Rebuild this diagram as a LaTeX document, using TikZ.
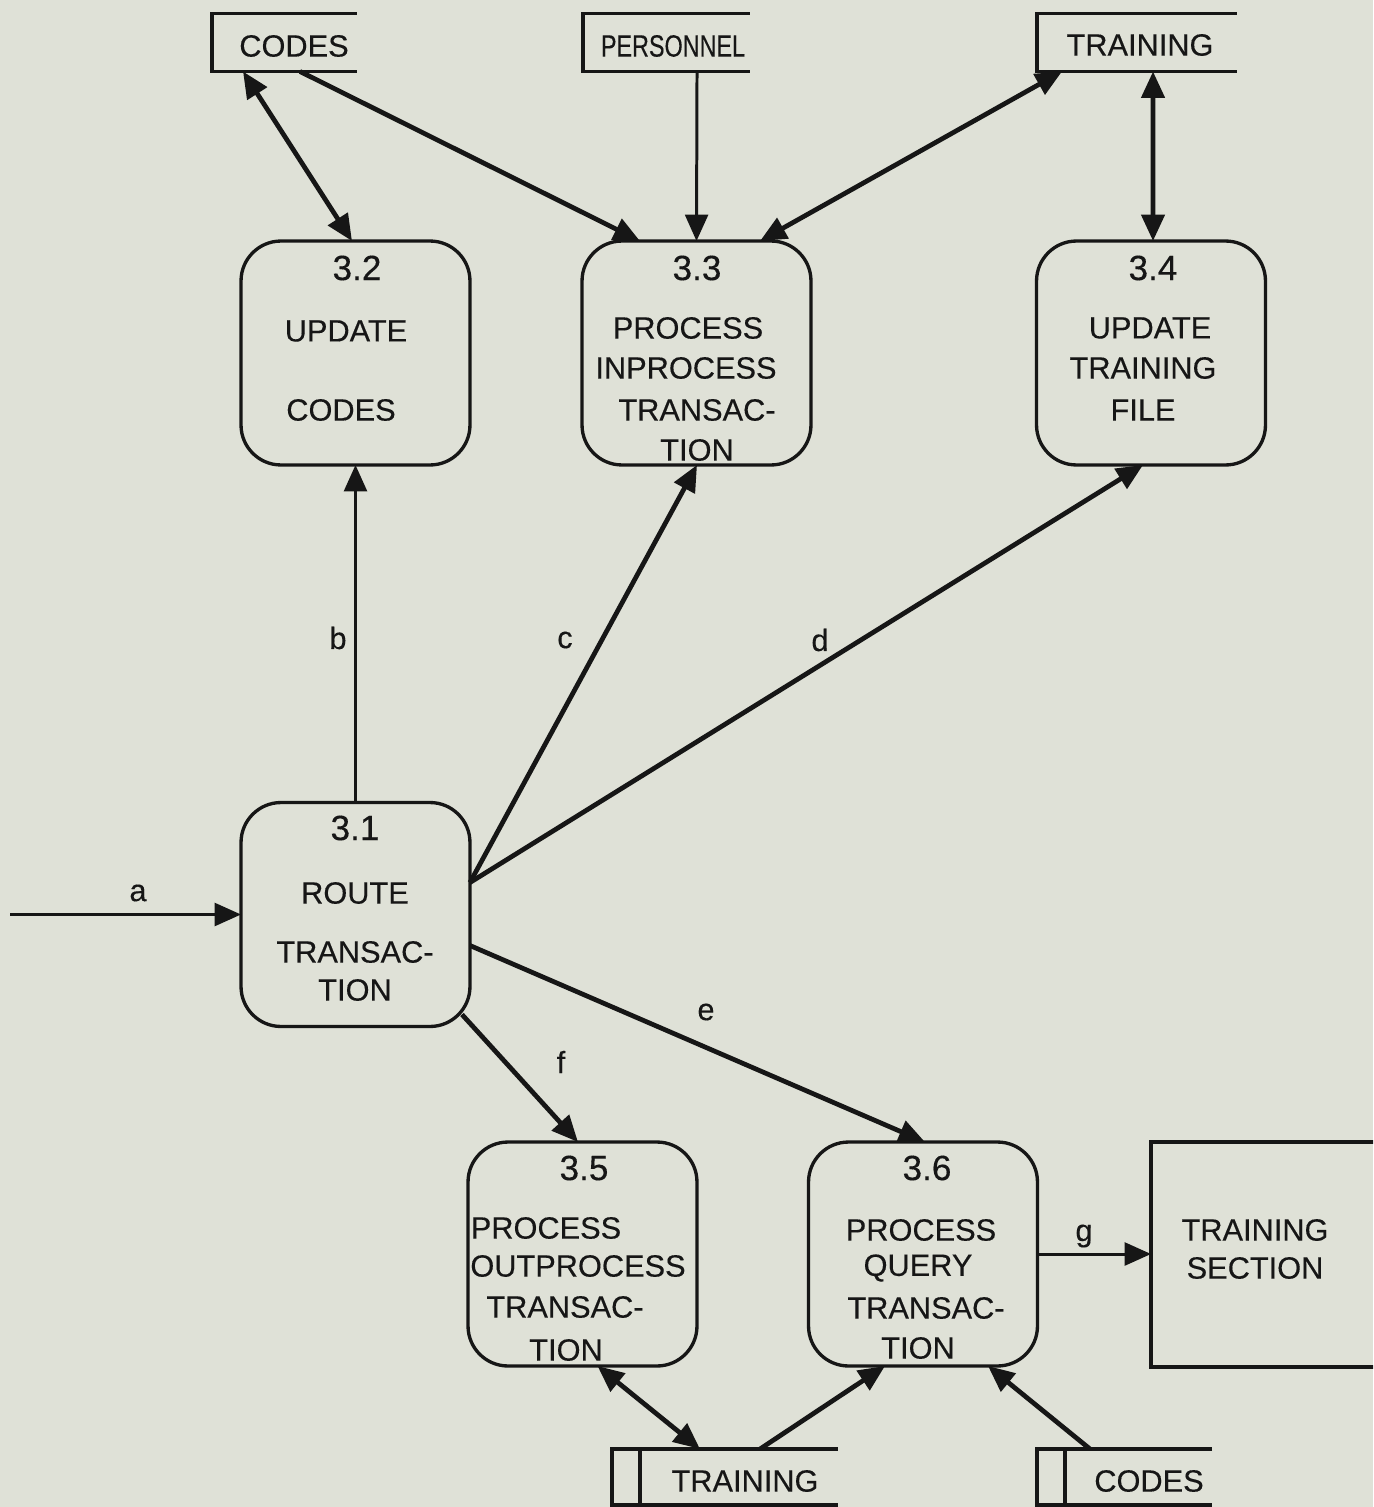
\documentclass[tikz,border=0pt]{standalone}
\usepackage{fontspec}
\setmainfont{Liberation Sans}[FakeBold=0.3]
\usetikzlibrary{arrows.meta,calc}
\definecolor{paper}{RGB}{223,225,215}
\definecolor{ink}{RGB}{22,22,22}
\begin{document}
\begin{tikzpicture}[x=0.02cm,y=-0.02cm,
  every node/.style={inner sep=0pt,outer sep=0pt},
  proc/.style={draw=ink,rounded corners=0.8cm,line width=1.9pt,minimum width=4.58cm,minimum height=4.48cm},
  storebox/.style={minimum height=1.16cm},
  storeline/.style={draw=ink,line width=1.9pt},
  txt/.style={text=ink,font=\fontsize{17.5}{20}\selectfont},
  num/.style={text=ink,font=\fontsize{20}{24}\selectfont},
  tip/.tip={Triangle[length=15pt,width=13pt]},
  flow/.style={draw=ink,line width=2.7pt,-tip},
  thinflow/.style={draw=ink,line width=1.7pt,-tip},
  twoway/.style={draw=ink,line width=2.7pt,tip-tip}]
\useasboundingbox (0,0) rectangle (1373,1507);
\fill[paper] (0,0) rectangle (1373,1507);
\clip (0,0) rectangle (1373,1507);

% process boxes
\node[proc] (p32) at (355.5,353) {};
\node[proc] (p33) at (696.5,353) {};
\node[proc] (p34) at (1151,353) {};
\node[proc] (p31) at (355.5,914.5) {};
\node[proc] (p35) at (582.5,1254) {};
\node[proc] (p36) at (923,1254) {};
\node[draw=ink,line width=1.9pt,minimum width=4.98cm,minimum height=4.5cm] (ts) at (1275.5,1254.5) {};

% texts in boxes
\node[num] (n32) at (357,268) {3.2};
\node[txt] (t32a) at (346,331) {UPDATE};
\node[txt] (t32b) at (341,410) {CODES};

\node[num] (n33) at (697,268) {3.3};
\node[txt] (t33a) at (688,328) {PROCESS};
\node[txt] (t33b) at (686,368) {INPROCESS};
\node[txt] (t33c) at (697,410) {TRANSAC-};
\node[txt] (t33d) at (697,450) {TION};

\node[num] (n34) at (1153,268) {3.4};
\node[txt] (t34a) at (1150,328) {UPDATE};
\node[txt] (t34b) at (1143,368) {TRAINING};
\node[txt] (t34c) at (1143,410) {FILE};

\node[num] (n31) at (355,828) {3.1};
\node[txt] (t31a) at (355,893) {ROUTE};
\node[txt] (t31b) at (355,952) {TRANSAC-};
\node[txt] (t31c) at (355,990) {TION};

\node[num] (n35) at (584,1168) {3.5};
\node[txt] (t35a) at (546,1228) {PROCESS};
\node[txt] (t35b) at (578,1266) {OUTPROCESS};
\node[txt] (t35c) at (565,1307) {TRANSAC-};
\node[txt] (t35d) at (566,1350) {TION};

\node[num] (n36) at (927,1168) {3.6};
\node[txt] (t36a) at (921,1230) {PROCESS};
\node[txt] (t36b) at (918,1268) {QUERY};
\node[txt] (t36c) at (926,1308) {TRANSAC-};
\node[txt] (t36d) at (918,1348) {TION};

\node[txt] (tsa) at (1255,1230) {TRAINING};
\node[txt] (tsb) at (1255,1268) {SECTION};

% data stores (top)
\node[storebox,minimum width=2.9cm] (sCodes) at (284.5,42.5) {};
\draw[storeline] (sCodes.north east) -- (sCodes.north west) -- (sCodes.south west) -- (sCodes.south east);
\node[txt] (tsc) at (294,46) {CODES};

\node[storebox,minimum width=3.34cm] (sPers) at (666.5,42.5) {};
\draw[storeline] (sPers.north east) -- (sPers.north west) -- (sPers.south west) -- (sPers.south east);
\node[txt] (tsp) at (673,46) {\scalebox{0.76}[1]{PERSONNEL}};

\node[storebox,minimum width=4cm] (sTrT) at (1137,42.5) {};
\draw[storeline] (sTrT.north east) -- (sTrT.north west) -- (sTrT.south west) -- (sTrT.south east);
\node[txt] (tst) at (1140,45) {TRAINING};

% data stores (bottom)
\node[minimum width=4.52cm,minimum height=1.12cm] (sTrB) at (725,1477) {};
\draw[storeline] (sTrB.north east) -- (sTrB.north west) -- (sTrB.south west) -- (sTrB.south east);
\draw[storeline] ($(sTrB.north west)+(28,0)$) -- ($(sTrB.south west)+(28,0)$);
\node[txt] (tsbt) at (745,1481) {TRAINING};

\node[minimum width=3.5cm,minimum height=1.12cm] (sCoB) at (1124.5,1477) {};
\draw[storeline] (sCoB.north east) -- (sCoB.north west) -- (sCoB.south west) -- (sCoB.south east);
\draw[storeline] ($(sCoB.north west)+(28,0)$) -- ($(sCoB.south west)+(28,0)$);
\node[txt] (tsbc) at (1149,1481) {CODES};

% top connectors
\draw[twoway] ($(sCodes.south west)+(31,0)$) -- ($(p32.north)+(-3.5,0)$);
\draw[flow] ($(sCodes.south)+(15.5,0)$) -- ($(p33.north)+(-56.5,0)$);
\draw[thinflow] ($(sPers.south west)+(114,0)$) -- (p33.north);
\draw[twoway] ($(sTrT.south west)+(25,0)$) -- ($(p33.north)+(63.5,0)$);
\draw[twoway] ($(sTrT.south west)+(116,0)$) -- ($(p34.north)+(2,0)$);

% from 3.1
\coordinate (aIn) at (10,914.5);
\draw[thinflow] (aIn) -- (p31.west);
\node[txt] (la) at (138,893) {a};
\draw[thinflow] (p31.north) -- (p32.south);
\node[txt] (lb) at (338,638) {b};
\coordinate (o31) at ($(p31.east)+(0,-32)$);
\draw[flow] (o31) -- ($(p33.south)+(0.5,0)$);
\draw[flow] (o31) -- ($(p34.south)+(-8,0)$);
\node[txt] (lc) at (565,640) {c};
\node[txt] (ld) at (820,640) {d};
\draw[flow] ($(p31.east)+(0,31)$) -- ($(p36.north)+(2,0)$);
\node[txt] (le) at (706,1012) {e};
\draw[flow] ($(p31.south east)+(-8,-12)$) -- ($(p35.north)+(-4.5,0)$);
\node[txt] (lf) at (561,1062) {f};
\draw[thinflow] (p36.east) -- (p36.east -| ts.west);
\node[txt] (lg) at (1084,1236) {g};

% bottom connectors
\draw[twoway] ($(sTrB.north)+(-25,0)$) -- ($(p35.south)+(15,0)$);
\draw[flow] ($(sTrB.north)+(35,0)$) -- ($(p36.south)+(-38,0)$);
\draw[flow] ($(sCoB.north)+(-34.5,0)$) -- ($(p36.south)+(65,0)$);
\end{tikzpicture}
\end{document}
